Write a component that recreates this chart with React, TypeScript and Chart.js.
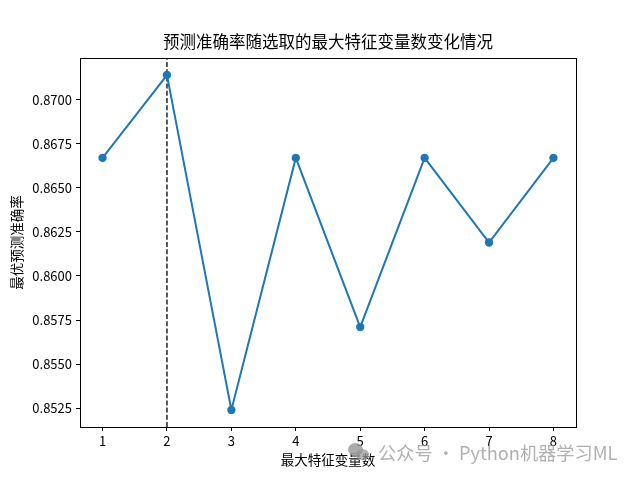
import { useEffect, useRef } from "react";
import Chart, { ChartOptions, Plugin } from "chart.js/auto";

const featureCounts = [1, 2, 3, 4, 5, 6, 7, 8];
const accuracy = [0.8667, 0.8714, 0.8524, 0.8667, 0.8571, 0.8667, 0.8619, 0.8667];
const bestCount = 2;
const yTicks = [0.8525, 0.855, 0.8575, 0.86, 0.8625, 0.865, 0.8675, 0.87];

const Y_MIN = 0.85143;
const Y_MAX = 0.87238;
const FONT = "'Noto Sans CJK SC', 'DejaVu Sans', sans-serif";

// matplotlib style frame round the plot area
const framePlugin: Plugin<"line"> = {
  id: "frame",
  afterDraw(chart) {
    const { ctx, chartArea } = chart;
    ctx.save();
    ctx.strokeStyle = "#000";
    ctx.lineWidth = 1;
    ctx.strokeRect(
      Math.round(chartArea.left) + 0.5,
      Math.round(chartArea.top) + 0.5,
      Math.round(chartArea.right - chartArea.left),
      Math.round(chartArea.bottom - chartArea.top)
    );
    ctx.restore();
  },
};

export default function App() {
  const chartRef = useRef<HTMLCanvasElement | null>(null);
  const chartInstance = useRef<Chart | null>(null);

  useEffect(() => {
    if (chartInstance.current) {
      chartInstance.current.destroy();
    }

    const options: ChartOptions<"line"> = {
      responsive: false,
      animation: false,
      layout: { padding: { left: 0, right: 64, top: 0, bottom: 0 } },
      scales: {
        x: {
          type: "linear",
          min: 0.65,
          max: 8.35,
          afterBuildTicks: (scale) => {
            scale.ticks = featureCounts.map((v) => ({ value: v }));
          },
          afterFit: (scale) => {
            scale.height = 53;
          },
          border: { display: false },
          grid: {
            drawOnChartArea: false,
            drawTicks: true,
            tickLength: 4,
            color: "#000",
          },
          ticks: {
            color: "#000",
            padding: 2,
            maxRotation: 0,
            font: { family: FONT, size: 13 },
          },
          title: {
            display: true,
            text: "最大特征变量数",
            color: "#000",
            font: { family: FONT, size: 13.5 },
            padding: { top: 0, bottom: 12 },
          },
        },
        y: {
          type: "linear",
          min: Y_MIN,
          max: Y_MAX,
          afterBuildTicks: (scale) => {
            scale.ticks = yTicks.map((v) => ({ value: v }));
          },
          afterFit: (scale) => {
            scale.width = 80;
          },
          border: { display: false },
          grid: {
            drawOnChartArea: false,
            drawTicks: true,
            tickLength: 4,
            color: "#000",
          },
          ticks: {
            color: "#000",
            padding: 4,
            font: { family: FONT, size: 13 },
            callback: (v) => Number(v).toFixed(4),
          },
          title: {
            display: true,
            text: "最优预测准确率",
            color: "#000",
            font: { family: FONT, size: 13.5 },
            padding: { top: 9, bottom: 0 },
          },
        },
      },
      plugins: {
        legend: { display: false },
        tooltip: { enabled: false },
        title: {
          display: true,
          fullSize: false,
          text: "预测准确率随选取的最大特征变量数变化情况",
          color: "#000",
          font: { family: FONT, size: 16.5, weight: "normal" },
          padding: { top: 32, bottom: 6 },
        },
      },
    };

    if (chartRef.current) {
      chartInstance.current = new Chart(chartRef.current, {
        type: "line",
        data: {
          datasets: [
            {
              label: "准确率",
              data: featureCounts.map((x, i) => ({ x, y: accuracy[i] })),
              borderColor: "#1f77b4",
              backgroundColor: "#1f77b4",
              borderWidth: 2,
              pointRadius: 4.2,
              pointBorderWidth: 0,
              tension: 0,
            },
            {
              label: "最优",
              data: [
                { x: bestCount, y: Y_MIN },
                { x: bestCount, y: Y_MAX },
              ],
              borderColor: "#000",
              borderWidth: 1.3,
              borderDash: [5, 2.2],
              pointRadius: 0,
            },
          ],
        },
        options,
        plugins: [framePlugin],
      });
    }

    return () => {
      if (chartInstance.current) {
        chartInstance.current.destroy();
      }
    };
  }, []);

  return (
    <div style={{ position: "fixed", left: 0, top: 0, width: 640, height: 480, background: "#fff" }}>
      <canvas ref={chartRef} width={640} height={480} />
      <div
        style={{
          position: "absolute",
          left: 348,
          top: 439,
          display: "flex",
          alignItems: "center",
          fontFamily: FONT,
          fontSize: 18.2,
          color: "rgba(150,150,150,0.75)",
          whiteSpace: "nowrap",
        }}
      >
        <span style={{ position: "relative", width: 24, height: 20, marginRight: 6 }}>
          <span style={{ position: "absolute", left: 0, top: 1, width: 15, height: 13, borderRadius: "50%", background: "rgba(150,150,150,0.8)" }} />
          <span style={{ position: "absolute", left: 8, top: 7, width: 13, height: 11, borderRadius: "50%", background: "rgba(150,150,150,0.7)" }} />
        </span>
        公众号 · Python机器学习ML
      </div>
    </div>
  );
}
